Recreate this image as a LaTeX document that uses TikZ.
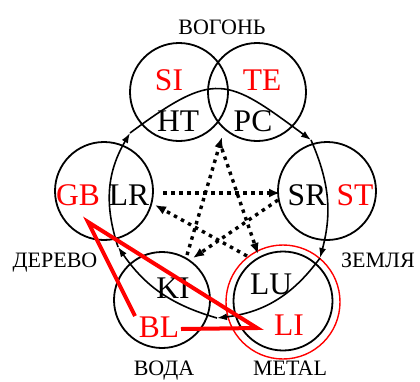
\documentclass[tikz,border=0pt]{standalone}
\usepackage{fontspec}
\setmainfont{Liberation Serif}
\usetikzlibrary{arrows.meta}
\definecolor{wred}{RGB}{255,0,0}
\begin{document}
\begin{tikzpicture}[x=1pt,y=-1pt,
  ring/.style={draw=black,line width=1.8pt,circle,inner sep=0pt,minimum size=#1},
  redring/.style={draw=wred,line width=1.4pt,circle,inner sep=0pt,minimum size=#1},
  big/.style={font=\fontsize{31.5}{32}\selectfont,inner sep=0pt,text height=21pt,text depth=0pt},
  small/.style={font=\fontsize{22}{22}\selectfont,inner sep=0pt,text height=14.6pt,text depth=0pt},
  redt/.style={text=wred},
  gen/.style={line width=1.6pt,-{Latex[length=10pt,width=7pt]}},
  ctrl/.style={line width=3.4pt,dash pattern=on 3.5pt off 4.5pt,-{Latex[length=11pt,width=9pt]}},
  redl/.style={draw=wred,line width=4pt,line join=miter}
]
\useasboundingbox (0,0) rectangle (420,381);

% circles
\node[ring=98pt] (cSI) at (179,92) {};
\node[ring=98pt] (cTE) at (257,92) {};
\node[ring=98pt] (cWood) at (104,191) {};
\node[ring=98pt] (cEarth) at (327,191) {};
\node[ring=96pt] (cWater) at (162,300) {};
\node[ring=99pt] (cMetal) at (283,301) {};
\node[redring=114pt] (cMetalR) at (283,302) {};

% generating cycle
\coordinate (gW) at (118,247);
\coordinate (gF) at (130,133);
\coordinate (gE) at (311,140);
\coordinate (gM) at (320,258);
\coordinate (gV) at (217,318);
\draw[gen] (gW) .. controls +(-14,-43) and +(-23,39) .. (gF);
\draw[gen] (gF) .. controls +(85,-63) and +(-85,-63) .. (gE);
\draw[gen] (gE) .. controls +(18.6,42.4) and +(12,-44.7) .. (gM);
\draw[gen] (gM) .. controls +(-27.6,37.7) and +(46.3,-5.4) .. (gV);
\draw[gen] (gV) .. controls +(-45.9,-13.2) and +(27.2,39.2) .. (gW);

% controlling star
\coordinate (d1a) at (163,193); \coordinate (d1b) at (280,193);
\coordinate (d2a) at (278,200); \coordinate (d2b) at (193,258);
\coordinate (d3a) at (187,255); \coordinate (d3b) at (222,137);
\coordinate (d4a) at (222,149); \coordinate (d4b) at (258,254);
\coordinate (d5a) at (247,256); \coordinate (d5b) at (155,205);
\draw[ctrl] (d1a) -- (d1b);
\draw[ctrl] (d2a) -- (d2b);
\draw[ctrl] (d3a) -- (d3b);
\draw[ctrl] (d4a) -- (d4b);
\draw[ctrl] (d5a) -- (d5b);

% labels
\node[small] (lFire) at (222,27) {ВОГОНЬ};
\node[small] (lWood) at (55,260) {ДЕРЕВО};
\node[small] (lEarth) at (378,260) {ЗЕМЛЯ};
\node[small] (lWater) at (164,368) {ВОДА};
\node[small] (lMetal) at (290,368) {METAL};

\node[big,redt] (SI) at (169,80) {SI};
\node[big,redt] (TE) at (262,80) {TE};
\node[big] (HT) at (178,121) {HT};
\node[big] (PC) at (253,121) {PC};
\node[big,redt] (GB) at (78,195) {GB};
\node[big] (LR) at (129,195) {LR};
\node[big] (SR) at (307,195) {SR};
\node[big,redt] (ST) at (355,195) {ST};
\node[big] (KI) at (173,288) {KI};
\node[big] (LU) at (271,284) {LU};
\node[big,redt] (BL) at (159,327) {BL};
\node[big,redt] (LI) at (289,325) {LI};

% red path
\coordinate (rA) at (181,329);
\coordinate (rB) at (257,328);
\coordinate (rC) at (88,222);
\coordinate (rD) at (135,316);
\draw[redl] (rA) -- (rB) -- (rC) -- (rD);
\end{tikzpicture}
\end{document}
